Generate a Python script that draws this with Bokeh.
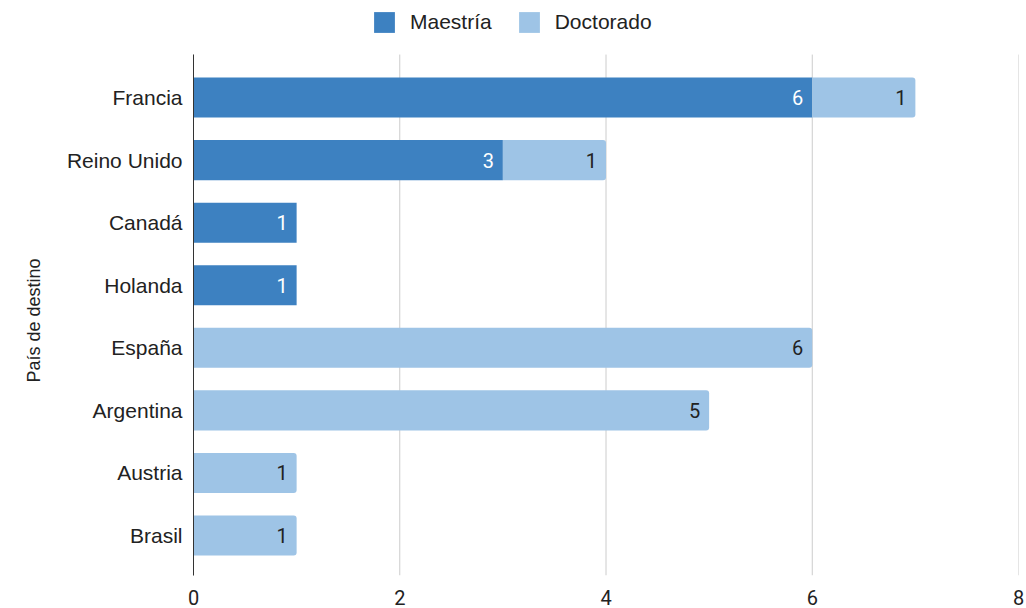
from bokeh.plotting import figure
from bokeh.models import ColumnDataSource, Legend, LegendItem, FixedTicker, Range1d, Title
from bokeh.core.properties import value
from bokeh.embed import file_html
from bokeh.resources import INLINE

countries = ["Francia", "Reino Unido", "Canadá", "Holanda", "España", "Argentina", "Austria", "Brasil"]
maestria = [6, 3, 1, 1, 0, 0, 0, 0]
doctorado = [1, 1, 0, 0, 6, 5, 1, 1]
x_ticks = [0, 2, 4, 6, 8]
y_title = "País de destino"

DARK = "#3d81c1"
LIGHT = "#9ec4e6"

n = len(countries)
ypos = [n - 1 - i for i in range(n)]
Y0, Y1 = -0.639, n - 1 + 0.687   # extent of the plotting area (grid / axis line)
YTOP = 8.551                      # extra room above for the legend

src = ColumnDataSource(dict(
    y=ypos,
    m=maestria,
    d_left=maestria,
    d_right=[a + b for a, b in zip(maestria, doctorado)],
))

p = figure(width=1026, height=608, output_backend="svg", toolbar_location=None,
           x_range=Range1d(0, 8), y_range=Range1d(Y0, YTOP),
           min_border_left=193, min_border_right=8, min_border_top=0, min_border_bottom=33)
p.outline_line_color = None
p.xgrid.grid_line_color = None
p.ygrid.grid_line_color = None

# vertical grid lines limited to the plotting area
p.segment(x0=x_ticks, x1=x_ticks, y0=[Y0] * len(x_ticks), y1=[Y1] * len(x_ticks),
          line_color="#cccccc", line_width=1)

r1 = p.hbar(y="y", left=0, right="m", height=0.64, source=src, fill_color=DARK, line_color=None)
r2 = p.hbar(y="y", left="d_left", right="d_right", height=0.64, source=src, fill_color=LIGHT,
            line_color=None, border_radius=(0, 3, 3, 0))

# data labels
lm_x, lm_y, lm_t = [], [], []
ld_x, ld_y, ld_t = [], [], []
for yy, a, b in zip(ypos, maestria, doctorado):
    if a:
        lm_x.append(a); lm_y.append(yy); lm_t.append(str(a))
    if b:
        ld_x.append(a + b); ld_y.append(yy); ld_t.append(str(b))
p.text(x=lm_x, y=lm_y, text=lm_t, text_align="right", text_baseline="middle", x_offset=-9,
       text_color="white", text_font=value("Roboto"), text_font_size="20px")
p.text(x=ld_x, y=ld_y, text=ld_t, text_align="right", text_baseline="middle", x_offset=-9,
       text_color="#222222", text_font=value("Roboto"), text_font_size="20px")

# axes
p.xaxis.ticker = FixedTicker(ticks=x_ticks)
p.xaxis.axis_line_color = None
p.xaxis.major_tick_line_color = None
p.xaxis.minor_tick_line_color = None
p.xaxis.major_tick_out = 0
p.xaxis.major_label_text_font = "Roboto"
p.xaxis.major_label_text_font_size = "20px"
p.xaxis.major_label_text_color = "#222222"
p.xaxis.major_label_standoff = 14

p.yaxis.ticker = FixedTicker(ticks=ypos)
p.yaxis.bounds = (Y0, Y1)
p.yaxis.major_label_overrides = {yy: c for yy, c in zip(ypos, countries)}
p.yaxis.axis_line_color = "#333333"
p.yaxis.major_tick_line_color = None
p.yaxis.minor_tick_line_color = None
p.yaxis.major_tick_out = 0
p.yaxis.major_label_text_font = "Liberation Sans"
p.yaxis.major_label_text_font_size = "21px"
p.yaxis.major_label_text_color = "#222222"
p.yaxis.major_label_standoff = 11

# y-axis title, placed in the left panel
ttl = Title(text=y_title, align="left", offset=193, text_font="Liberation Sans",
            text_font_size="18px", text_font_style="normal", text_color="#222222", standoff=40)
p.add_layout(ttl, "left")

legend = Legend(items=[LegendItem(label="Maestría", renderers=[r1]),
                       LegendItem(label="Doctorado", renderers=[r2])],
                orientation="horizontal", location=(178, 540),
                label_text_font="Liberation Sans", label_text_font_size="21px",
                label_text_color="#222222", glyph_width=26, glyph_height=26,
                label_height=26, spacing=24, label_standoff=13, border_line_color=None,
                background_fill_alpha=0, padding=0, margin=0)
p.add_layout(legend, "center")

open("out.html", "w").write(file_html(p, INLINE))
